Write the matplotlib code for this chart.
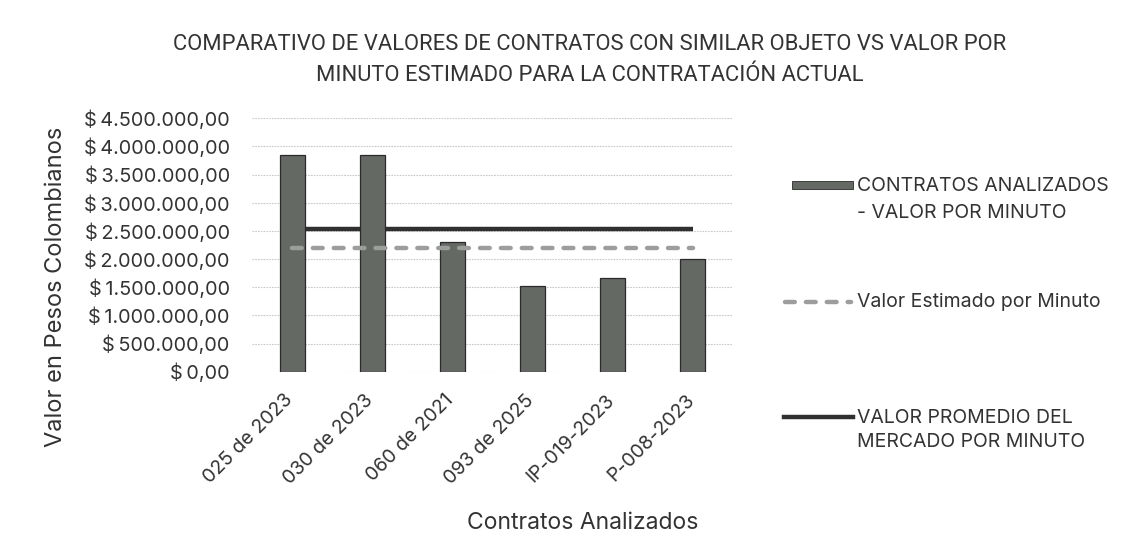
import matplotlib
matplotlib.use("Agg")
import matplotlib.pyplot as plt
import matplotlib.transforms as mtransforms
from matplotlib.patches import Rectangle
from matplotlib.lines import Line2D
import numpy as np

categories = ["025 de 2023", "030 de 2023", "060 de 2021", "093 de 2025", "IP-019-2023", "P-008-2023"]
valor_contratos = [3850000, 3840000, 2310000, 1530000, 1660000, 2000000]
valor_estimado = [2190000] * 6
valor_promedio = [2535000] * 6
yticks = np.arange(0, 4500001, 500000)

def fmt(v):
    s = f"{v:,.2f}"
    s = s.replace(",", "X").replace(".", ",").replace("X", ".")
    return "$\u2009" + s

plt.rcParams['font.family'] = ['Inter', 'DejaVu Sans']
TXT = "#333333"
BAR = "#646964"
DASH = "#9c9e9c"
SOLID = "#2f302f"
W, H = 1143, 558
fig = plt.figure(figsize=(W / 100, H / 100), dpi=100)
fig.patch.set_facecolor("white")
ax = fig.add_axes([252 / W, 1 - 371.7 / H, (733 - 252) / W, (371.7 - 118.3) / H])

x = np.arange(len(categories))
ax.plot(x, valor_promedio, color=SOLID, lw=3.2, zorder=2, solid_capstyle="butt")
ax.bar(x, valor_contratos, width=0.31, color=BAR, edgecolor="#2a2a2a", linewidth=0.9, zorder=3)
ax.plot(x, valor_estimado, color=DASH, lw=3.2, ls=(0, (2.2, 2.5)), zorder=4, dash_capstyle="round")

ax.set_xlim(-0.5, len(categories) - 0.5)
ax.set_ylim(0, 4500000)
ax.set_yticks(yticks)
ax.set_yticklabels([fmt(v) for v in yticks], fontsize=14.3, color=TXT)
ax.set_xticks(x)
ax.set_xticklabels(categories, rotation=45, ha="right", va="top", rotation_mode="anchor",
                   fontsize=14, color=TXT)
ax.tick_params(axis="both", length=0)
ax.tick_params(axis="y", pad=16)
ax.tick_params(axis="x", pad=6)
off = mtransforms.ScaledTranslation(-8 / 100, -11 / 100, fig.dpi_scale_trans)
for lbl in ax.get_xticklabels():
    lbl.set_transform(lbl.get_transform() + off)
for s in ax.spines.values():
    s.set_visible(False)
ax.grid(axis="y", color="#c9c9c9", lw=0.8, ls=(0, (1.5, 1)), zorder=0)
ax.set_axisbelow(True)

fig.text(56 / W, 1 - 287 / H, "Valor en Pesos Colombianos", rotation=90, ha="center", va="center",
         fontsize=17, color=TXT)
fig.text(583 / W, 1 - 523 / H, "Contratos Analizados", ha="center", va="center", fontsize=16.5, color=TXT)

title = "COMPARATIVO DE VALORES DE CONTRATOS CON SIMILAR OBJETO VS VALOR POR\nMINUTO ESTIMADO PARA LA CONTRATACIÓN ACTUAL"
fig.text(590 / W, 1 - 60 / H, title, ha="center", va="center", fontsize=15.8, color=TXT,
         family=["Roboto", "DejaVu Sans"], linespacing=1.65)

# legend (manual)
fig.add_artist(Rectangle((792 / W, 1 - 189 / H), 61 / W, 8 / H, transform=fig.transFigure,
                         facecolor=BAR, edgecolor="#2a2a2a", lw=0.6))
LF = 14
fig.text(857 / W, 1 - 186 / H, "CONTRATOS ANALIZADOS", ha="left", va="center", fontsize=LF, color=TXT)
fig.text(857 / W, 1 - 213 / H, "- VALOR POR MINUTO", ha="left", va="center", fontsize=LF, color=TXT)
fig.add_artist(Line2D([785 / W, 851 / W], [1 - 302 / H, 1 - 302 / H], transform=fig.transFigure,
                      color=DASH, lw=3.2, ls=(0, (2.2, 2.5)), dash_capstyle="round"))
fig.text(857 / W, 1 - 302 / H, "Valor Estimado por Minuto", ha="left", va="center", fontsize=LF, color=TXT)
fig.add_artist(Line2D([784 / W, 853 / W], [1 - 417 / H, 1 - 417 / H], transform=fig.transFigure,
                      color=SOLID, lw=3.2))
fig.text(857 / W, 1 - 418 / H, "VALOR PROMEDIO DEL", ha="left", va="center", fontsize=LF, color=TXT)
fig.text(857 / W, 1 - 442 / H, "MERCADO POR MINUTO", ha="left", va="center", fontsize=LF, color=TXT)

fig.savefig("out.png", dpi=100, facecolor="white")
